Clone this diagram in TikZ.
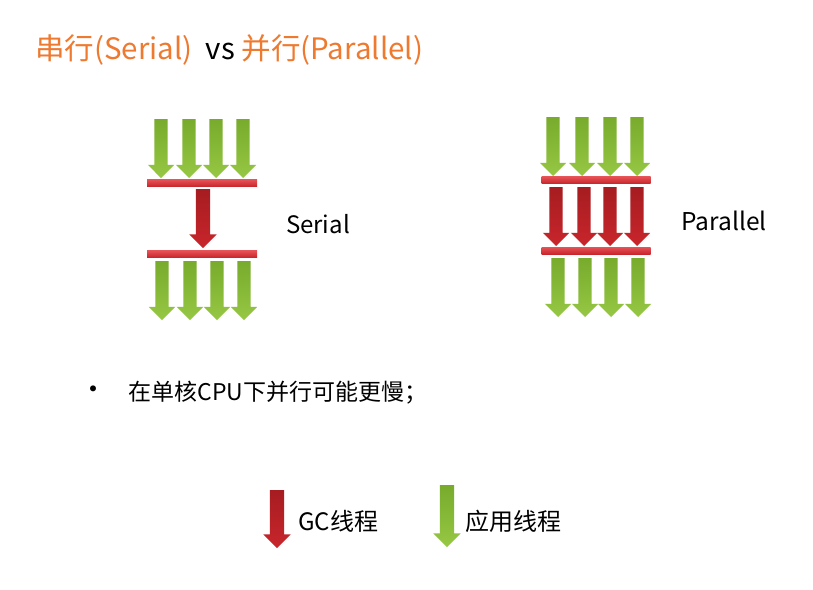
\documentclass[tikz,border=0pt]{standalone}
\usepackage{fontspec}
\setmainfont{Noto Sans CJK SC}
\usetikzlibrary{shapes.arrows, positioning}
\definecolor{titleorange}{RGB}{238,122,48}
\definecolor{gcred}{RGB}{200,38,44}
\definecolor{gcredlight}{RGB}{230,82,86}
\definecolor{gcreddark}{RGB}{166,28,32}
\definecolor{appgreen}{RGB}{150,200,68}
\definecolor{appgreenlight}{RGB}{190,226,118}
\definecolor{appgreendark}{RGB}{120,170,44}
\tikzstyle{greenarrow} = [single arrow, draw=none, rotate=-90, minimum height=59pt, inner xsep=0pt, inner ysep=6.5pt, single arrow head extend=6.5pt, outer sep=0pt, bottom color=appgreen, middle color=appgreenlight, top color=appgreendark, anchor=tip]
\tikzstyle{redarrow} = [single arrow, draw=none, rotate=-90, minimum height=59pt, inner xsep=0pt, inner ysep=7pt, single arrow head extend=6.5pt, outer sep=0pt, bottom color=gcred, middle color=gcredlight, top color=gcreddark, anchor=tip]
\tikzstyle{redbar} = [rectangle, minimum width=110pt, minimum height=7pt, inner sep=0pt, top color=gcredlight, bottom color=gcred]
\tikzstyle{label} = [inner sep=0pt, font=\fontsize{24pt}{27pt}\selectfont]

\begin{document}
\begin{tikzpicture}[x=1pt, y=-1pt]
    \useasboundingbox[fill=white] (0,0) rectangle (813,589);

    \node (title) [inner sep=0pt, anchor=west, font=\fontsize{29.5pt}{32pt}\selectfont] at (35,50)
        {\textcolor{titleorange}{串行(Serial)}\ \ vs \textcolor{titleorange}{并行(Parallel)}};

    % serial
    \node (sTopA) [greenarrow] at (161,178) {};
    \node (sTopB) [greenarrow] at (189,178) {};
    \node (sTopC) [greenarrow] at (216,178) {};
    \node (sTopD) [greenarrow] at (243,178) {};
    \node (sBarTop) [redbar] at (202,183) {};
    \node (sGc) [redarrow] at (203,248) {};
    \node (sBarBot) [redbar] at (202,254) {};
    \node (sBotA) [greenarrow] at (162,320) {};
    \node (sBotB) [greenarrow] at (190,320) {};
    \node (sBotC) [greenarrow] at (217,320) {};
    \node (sBotD) [greenarrow] at (244,320) {};
    \node (serialTxt) [label] at (318,224) {Serial};

    % parallel
    \node (pTopA) [greenarrow] at (553,176) {};
    \node (pTopB) [greenarrow] at (582,176) {};
    \node (pTopC) [greenarrow] at (610,176) {};
    \node (pTopD) [greenarrow] at (637,176) {};
    \node (pBarTop) [redbar, minimum width=109pt] at (596,180) {};
    \node (pGcA) [redarrow, inner ysep=6.5pt] at (556,246) {};
    \node (pGcB) [redarrow, inner ysep=6.5pt] at (584,246) {};
    \node (pGcC) [redarrow, inner ysep=6.5pt] at (610,246) {};
    \node (pGcD) [redarrow, inner ysep=6.5pt] at (637,246) {};
    \node (pBarBot) [redbar, minimum width=109pt] at (596,250.5) {};
    \node (pBotA) [greenarrow] at (558,317) {};
    \node (pBotB) [greenarrow] at (585,317) {};
    \node (pBotC) [greenarrow] at (611,317) {};
    \node (pBotD) [greenarrow] at (638,317) {};
    \node (parallelTxt) [label, font=\fontsize{24.5pt}{27pt}\selectfont] at (724,221) {Parallel};

    % note
    \node (bullet) [label, font=\fontsize{28pt}{30pt}\selectfont] at (93,393) {•};
    \node (note) [label, font=\fontsize{23pt}{26pt}\selectfont, right=21pt of bullet] {在单核CPU下并行可能更慢；};

    % legend
    \node (gcKey) [redarrow, minimum height=58pt] at (277,548) {};
    \node (gcTxt) [label, anchor=west] at (298,521) {GC线程};
    \node (appKey) [greenarrow, minimum height=62pt, inner ysep=7pt] at (447,547) {};
    \node (appTxt) [label, anchor=west] at (465,521) {应用线程};
\end{tikzpicture}
\end{document}
